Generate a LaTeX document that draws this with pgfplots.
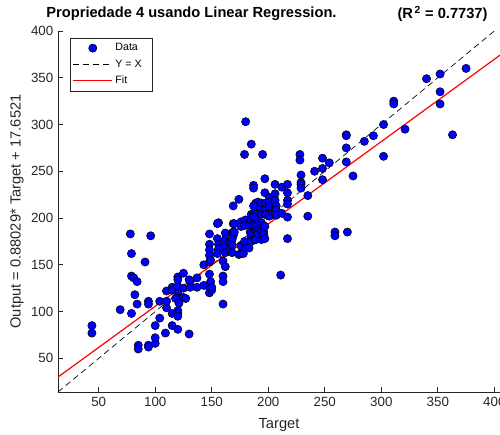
\documentclass[border=0pt]{standalone}
\usepackage{fontspec}
\setmainfont{Liberation Sans}
\usepackage{pgfplots}
\pgfplotsset{compat=1.18}
\definecolor{axgray}{RGB}{38,38,38}
\definecolor{fitred}{RGB}{255,0,0}
\pgfplotsset{
  dotleg/.style={legend image code/.code={\draw[##1] plot coordinates {(14.5pt,0pt)};}},
  lineleg/.style={legend image code/.code={\draw[##1] (0pt,0pt) -- (29pt,0pt);}},
}
\pgfplotstableread{
x y
44 85
44 77
69 102
78 183
96 181
79 162
91 153
79 138
81 136
84 132
82 118
79 98
84 108
94 111
94 108
85 64
85 60
94 64
94 62
100 66
100 72
100 85
104 111
104 93
110 104
110 122
110 111
109 77
115 85
115 98
115 126
115 123
120 127
120 137
120 134
120 119
120 114
120 101
120 98
120 95
120 81
118 114
121 109
125 141
125 125
125 115
127 114
130 76
131 132
130 134
131 126
137 126
137 136
143 150
143 128
148 140
148 125
148 120
149 132
150 123
150 126
148 183
148 172
148 166
148 160
148 153
149 155
156 195
155 194
155 178
156 172
156 167
155 162
160 154
160 138
160 132
160 108
162 148
162 184
162 177
162 169
162 163
166 175
166 166
168 163
168 184
169 185
166 174
169 194
169 213
169 181
170 194
170 185
168 177
168 171
174 220
174 161
176 196
176 191
176 170
176 162
178 162
180 173
180 198
180 193
180 168
179 175
179 192
183 192
183 168
184 185
185 204
185 198
185 180
185 175
187 203
188 196
187 192
187 184
188 177
189 216
189 209
189 204
189 191
189 186
189 177
191 217
191 212
191 198
191 188
191 183
194 216
194 204
194 191
194 186
194 177
194 195
196 185
196 182
196 192
197 215
197 209
197 204
197 227
197 242
197 191
197 178
198 216
198 204
201 222
201 217
201 212
201 202
204 204
206 236
206 226
206 219
206 212
206 206
207 213
207 209
207 203
212 233
212 205
217 236
217 227
217 219
217 215
217 201
217 178
211 139
185 279
179 268
195 268
180 303
187 235
187 232
187 213
187 201
228 268
228 262
229 246
229 238
229 236
229 232
235 224
235 202
241 250
248 264
248 253
248 241
254 259
259 185
259 181
270 185
269 289
269 288
269 275
269 260
275 245
285 282
293 288
302 300
302 266
311 325
311 322
321 295
340 349
352 354
352 335
352 322
363 289
375 360
}\datatable
\begin{document}
\begin{tikzpicture}
\begin{axis}[name=ax, scale only axis, width=331.5pt, height=270.75pt,
  xmin=14, xmax=405, ymin=14, ymax=400,
  axis lines*=left, axis line style={axgray, line width=0.5pt},
  tick align=inside, tick style={axgray, line width=0.5pt}, major tick length=3.5pt,
  xtick={50,100,...,400}, ytick={50,100,...,400},
  ticklabel style={font=\fontsize{10}{12}\selectfont, text=axgray},
  /pgf/number format/assume math mode=true,
  xlabel={Target}, ylabel={Output = 0.88029* Target + 17.6521},
  label style={font=\fontsize{11}{13}\selectfont, text=axgray},
  xlabel style={at={(rel axis cs:0.5,0)}, anchor=center, yshift=-25pt},
  ylabel style={at={(rel axis cs:0,0.5)}, anchor=center, rotate=0, yshift=30.75pt},
  legend style={at={(0.027,0.981)}, anchor=north west, draw=axgray,
    font=\fontsize{8}{9.6}\selectfont, row sep=1.2pt, inner sep=2pt},
  legend cell align=left,
]
\addplot[dotleg, only marks, mark=*, mark size=3.1pt, mark options={fill=blue, draw=black, line width=0.4pt}] table[x=x,y=y] {\datatable};
\addlegendentry{Data}
\addplot[lineleg, black, line width=0.5pt, dash pattern=on 4.5pt off 3pt, mark=none] coordinates {(14,14) (405,405)};
\addlegendentry{Y = X\hspace*{4pt}}
\addplot[lineleg, fitred, line width=0.9pt, mark=none] coordinates {(14,29.976) (405,374.17)};
\addlegendentry{Fit}
\end{axis}
\node[font=\bfseries\fontsize{11}{13}\selectfont] at ([shift={(100.1pt,12.75pt)}]ax.north west) {Propriedade 4 usando Linear Regression.};
\node[font=\bfseries\fontsize{11}{13}\selectfont] at ([shift={(288.4pt,12.75pt)}]ax.north west) {(R\textsuperscript{\,2} = 0.7737)};
\pgfresetboundingbox
\path[use as bounding box] ([shift={(-43.5pt,-32.25pt)}]ax.south west) rectangle ([shift={(0pt,23.25pt)}]ax.north east);
\end{tikzpicture}
\end{document}
